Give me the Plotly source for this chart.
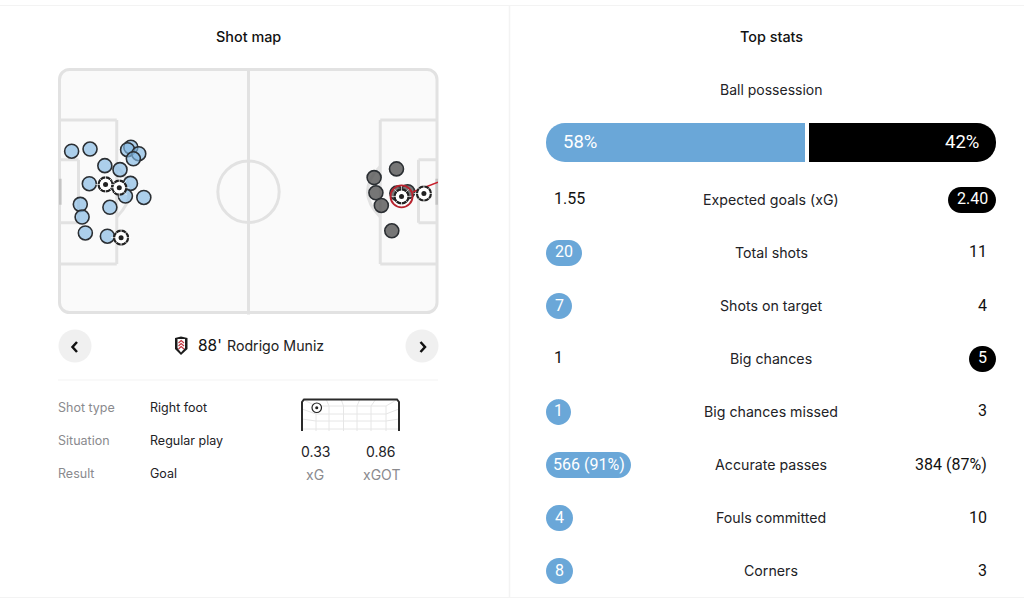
import plotly.graph_objects as go

W, H = 1024, 609
FONT = "Inter"
NUM = "Roboto"
DARK = "#222226"
GREY = "#8a8a8e"
BLUE = "#6aa7d8"
LINE = "#e2e2e2"

# shots, pitch metres (105 x 68)
home_x = [3.5, 8.6, 19.9, 19.0, 22.1, 20.6, 12.7, 16.9, 8.4, 19.8, 18.4, 23.5, 5.9, 14.1, 6.4, 7.3, 13.4]
home_y = [45.2, 45.8, 46.3, 45.6, 44.5, 43.1, 41.2, 40.1, 36.2, 36.3, 32.8, 32.4, 30.5, 29.7, 27.0, 22.6, 21.7]
home_goal_x = [12.9, 16.7, 17.2]
home_goal_y = [36.0, 35.1, 21.3]
away_x = [93.5, 87.3, 87.8, 89.3, 92.2, 93.6, 96.6]
away_y = [40.3, 37.9, 33.7, 30.2, 23.2, 33.6, 34.0]
away_goal_x = [94.9, 101.1]
away_goal_y = [32.7, 33.5]
sel_x = [94.9]
sel_y = [32.7]
sel_end_x = [98.0, 105.0]
sel_end_y = [33.9, 36.6]

possession = [58, 42]
teams = ["Home", "Away"]

stat_labels = ["Expected goals (xG)", "Total shots", "Shots on target", "Big chances",
               "Big chances missed", "Accurate passes", "Fouls committed", "Corners"]
stat_home = ["1.55", "20", "7", "1", "1", "566 (91%)", "4", "8"]
stat_away = ["2.40", "11", "4", "5", "3", "384 (87%)", "10", "3"]
stat_lead = ["away", "home", "home", "away", "home", "home", "home", "home"]
stat_y_px = [200, 253, 306, 359, 412, 465, 518, 571]
pill_w = [48, 36, 26, 27, 25, 85, 27, 27]

detail_labels = ["Shot type", "Situation", "Result"]
detail_values = ["Right foot", "Regular play", "Goal"]


def px(x):
    return x / W


def py(y):
    return 1 - y / H


def rrect(x0, y0, x1, y1, r):
    k = r * 0.4477
    return (f"M{px(x0+r)},{py(y0)} L{px(x1-r)},{py(y0)} C{px(x1-k)},{py(y0)} {px(x1)},{py(y0+k)} {px(x1)},{py(y0+r)} "
            f"L{px(x1)},{py(y1-r)} C{px(x1)},{py(y1-k)} {px(x1-k)},{py(y1)} {px(x1-r)},{py(y1)} "
            f"L{px(x0+r)},{py(y1)} C{px(x0+k)},{py(y1)} {px(x0)},{py(y1-k)} {px(x0)},{py(y1-r)} "
            f"L{px(x0)},{py(y0+r)} C{px(x0)},{py(y0+k)} {px(x0+k)},{py(y0)} {px(x0+r)},{py(y0)} Z")


def poly(pts, close=False):
    s = "M" + " L".join(f"{px(a)},{py(b)}" for a, b in pts)
    return s + (" Z" if close else "")


fig = go.Figure()
shapes = []
ann = []


def text(x, y, s, size=14, color=DARK, anchor="center", weight=400, family=FONT):
    # annotations carry about 2px of padding on the anchored side
    x = x - 2 if anchor == "left" else (x + 2 if anchor == "right" else x)
    ann.append(dict(x=px(x), y=py(y), xref="paper", yref="paper", text=s, showarrow=False,
                    xanchor=anchor, yanchor="middle",
                    font=dict(family=family, size=size, color=color, weight=weight)))


def pl(x0, y0, x1, y1, color=LINE, w=1.0):
    shapes.append(dict(type="line", xref="paper", yref="paper", x0=px(x0), y0=py(y0), x1=px(x1), y1=py(y1),
                       line=dict(color=color, width=w), layer="below"))


def pathp(d, fill=None, color=None, w=0.0):
    s = dict(type="path", xref="paper", yref="paper", path=d, layer="below", line=dict(width=w))
    if fill:
        s["fillcolor"] = fill
    if color:
        s["line"]["color"] = color
    shapes.append(s)


# frame dividers
pl(0, 5.5, 1024, 5.5, "#f3f3f3", 1)
pl(509.5, 6, 509.5, 597, "#f3f3f3", 1.5)
pl(0, 597.5, 1024, 597.5, "#f3f3f3", 1)

# pitch in data coordinates
PL = dict(color=LINE, width=3)


def seg(x0, y0, x1, y1):
    shapes.append(dict(type="line", xref="x", yref="y", x0=x0, y0=y0, x1=x1, y1=y1, line=PL, layer="below"))


pathp(rrect(59.5, 69.5, 437, 312.5, 10), "#fafafa", LINE, 3)
seg(52.5, 0, 52.5, 68)
shapes.append(dict(type="circle", xref="x", yref="y", x0=52.5 - 8.5, x1=52.5 + 8.5, y0=34 - 8.5, y1=34 + 8.5, line=PL, layer="below"))
for side in (0, 1):
    f = (lambda v: v) if side == 0 else (lambda v: 105 - v)
    seg(f(0), 14, f(16), 14)
    seg(f(0), 53.8, f(16), 53.8)
    seg(f(16), 14, f(16), 53.8)
    seg(f(0), 25.4, f(5.4), 25.4)
    seg(f(0), 42.8, f(5.4), 42.8)
    seg(f(5.4), 25.4, f(5.4), 42.8)
    shapes.append(dict(type="path", xref="x", yref="y", path=f"M{f(16)},41 Q{f(23)},34 {f(16)},27", line=PL, layer="below"))
    shapes.append(dict(type="line", xref="x", yref="y", x0=f(0.3), x1=f(0.3), y0=30.4, y1=37.6,
                       line=dict(color="#c4c4c4", width=3), layer="below"))

fig.add_trace(go.Scatter(x=home_x, y=home_y, mode="markers", xaxis="x", yaxis="y",
                         marker=dict(size=14, color="rgba(130,185,228,0.65)", line=dict(color="#2b2f33", width=1.6)),
                         name="Home shots", hoverinfo="skip"))
fig.add_trace(go.Scatter(x=away_x, y=away_y, mode="markers", xaxis="x", yaxis="y",
                         marker=dict(size=14, color="rgba(85,85,85,0.8)", line=dict(color="#2b2f33", width=1.6)),
                         name="Away shots", hoverinfo="skip"))
fig.add_trace(go.Scatter(x=sel_end_x, y=sel_end_y, mode="lines", xaxis="x", yaxis="y",
                         line=dict(color="#c7202c", width=1.5), hoverinfo="skip"))
for gx, gy in ((home_goal_x, home_goal_y), (away_goal_x, away_goal_y)):
    fig.add_trace(go.Scatter(x=gx, y=gy, mode="markers", xaxis="x", yaxis="y",
                             marker=dict(size=14, color="white", line=dict(color="#222", width=2.2)), hoverinfo="skip"))
    fig.add_trace(go.Scatter(x=gx, y=gy, mode="markers", xaxis="x", yaxis="y",
                             marker=dict(size=17, symbol="asterisk-open", color="white",
                                         line=dict(color="white", width=0.7)), hoverinfo="skip"))
    fig.add_trace(go.Scatter(x=gx, y=gy, mode="markers", xaxis="x", yaxis="y",
                             marker=dict(size=5, color="#222"), hoverinfo="skip"))
fig.add_trace(go.Scatter(x=sel_x, y=sel_y, mode="markers", xaxis="x", yaxis="y",
                         marker=dict(size=22, color="rgba(0,0,0,0)", line=dict(color="#b8232e", width=1.8)),
                         hoverinfo="skip"))

# possession bar: each part grows from the split towards its own end
fig.add_trace(go.Bar(x=[-possession[0]], base=[possession[0]], y=["Ball possession"], orientation="h",
                     marker=dict(color=BLUE, line=dict(width=0)), xaxis="x2", yaxis="y2",
                     name=teams[0], hoverinfo="skip", width=1))
fig.add_trace(go.Bar(x=[possession[1]], base=[possession[0]], y=["Ball possession"], orientation="h",
                     marker=dict(color="#000000", line=dict(width=0)), xaxis="x2", yaxis="y2",
                     name=teams[1], hoverinfo="skip", width=1))
# square off the inner ends at the split, then the white gap
shapes.append(dict(type="rect", xref="x2", yref="y2", x0=possession[0] - 8, x1=possession[0], y0=-0.5, y1=0.5,
                   fillcolor=BLUE, line=dict(width=0)))
shapes.append(dict(type="rect", xref="x2", yref="y2", x0=possession[0], x1=possession[0] + 8, y0=-0.5, y1=0.5,
                   fillcolor="#000000", line=dict(width=0)))
shapes.append(dict(type="line", xref="x2", yref="y2", x0=possession[0], x1=possession[0], y0=-0.5, y1=0.5,
                   line=dict(color="white", width=4)))

# headings
text(248.5, 36, "Shot map", 14.4, "#111", weight=500)
text(771, 36, "Top stats", 14.4, "#111", weight=500)
text(770.5, 89.5, "Ball possession", 14)
text(563, 141.5, f"{possession[0]}%", 18.5, "white", "left", 400, NUM)
text(979, 141.5, f"{possession[1]}%", 18.5, "white", "right", 400, NUM)

# stats
for lab, h, a, lead, y, w in zip(stat_labels, stat_home, stat_away, stat_lead, stat_y_px, pill_w):
    text(771, y - 0.5, lab, 14.2)
    if lead == "home":
        pathp(rrect(546, y - 13, 546 + w, y + 13, 13), BLUE)
        text(546 + w / 2, y - 1, h, 16, "white", weight=400, family=NUM)
        text(987, y - 1, a, 16, "#111", "right", 400, NUM)
    else:
        pathp(rrect(996 - w, y - 13, 996, y + 13, 13), "#000")
        text(996 - w / 2, y - 1, a, 16, "white", weight=400, family=NUM)
        text(554, y - 1, h, 16, "#111", "left", 400, NUM)

# navigation
for cx, pts in ((75, [(77, 342), (72.5, 347), (77, 352)]), (422, [(420.5, 342), (425, 347), (420.5, 352)])):
    shapes.append(dict(type="circle", xref="paper", yref="paper", x0=px(cx - 16.5), x1=px(cx + 16.5),
                       y0=py(346 + 16.5), y1=py(346 - 16.5), fillcolor="#f0f0f0", line=dict(width=0), layer="below"))
    pathp(poly(pts), None, "#111", 2.5)
text(198, 345, "88'", 15.5, "#111", "left", 400)
text(227, 346, "Rodrigo Muniz", 14.2, "#222", "left")
pl(58, 380, 438, 380, "#f3f3f3", 1)

# crest
pathp(poly([(175, 338), (181, 336.5), (187.5, 338), (187.5, 349), (181, 355), (175, 349)], True), "#1c1c1c")
pathp(poly([(177.5, 339), (185, 339), (185, 348), (181, 352.5), (177.5, 348)], True), "#ffffff")
pathp(poly([(178.5, 343), (181.2, 340.5), (184, 343)]), None, "#c2353f", 1.2)
pathp(poly([(178.5, 346), (181.2, 343.5), (184, 346)]), None, "#c2353f", 1.2)
pathp(poly([(178.5, 349), (181.2, 346.5), (184, 349)]), None, "#c2353f", 1.2)

# details
for lab, val, y in zip(detail_labels, detail_values, (407.5, 440.5, 473.5)):
    text(58, y, lab, 12.5, GREY, "left")
    text(150, y, val, 12.5, DARK, "left")

# mini goal
NET = "#e6e6e6"
pl(316, 406, 386, 406, NET)
for y in (414, 421, 429):
    pl(316, y, 386, y, NET)
for x in (316, 329, 343.5, 357, 371, 386):
    pl(x, 406, x, 431, NET)
for a, b in ((316, 302), (329, 326), (343.5, 341), (357, 360), (371, 376), (386, 398)):
    pl(a, 406, b, 399, NET)
for a, b in ((414, 409), (421, 419), (429, 429)):
    pl(316, a, 302, b, NET)
    pl(386, a, 399, b, NET)
pathp(poly([(302, 431), (302, 402), (304, 399.5), (397, 399.5), (399, 402), (399, 431)]), None, "#2a2a2a", 2)
shapes.append(dict(type="circle", xref="paper", yref="paper", x0=px(312), x1=px(321.5), y0=py(412.5), y1=py(403),
                   fillcolor="white", line=dict(color="#222", width=1.2)))
shapes.append(dict(type="circle", xref="paper", yref="paper", x0=px(315.2), x1=px(318.3), y0=py(409.3), y1=py(406.2),
                   fillcolor="#222", line=dict(width=0)))
text(315, 451.5, "0.33", 14)
text(381, 451.5, "0.86", 14)
text(315, 474.5, "xG", 14, GREY)
text(381, 474.5, "xGOT", 14, GREY)

fig.update_layout(
    width=W, height=H, margin=dict(l=0, r=0, t=0, b=0), paper_bgcolor="white", plot_bgcolor="rgba(0,0,0,0)",
    showlegend=False, barmode="overlay", barcornerradius=19, shapes=shapes, annotations=ann,
    xaxis=dict(domain=[px(59), px(438)], range=[0, 105], visible=False, fixedrange=True),
    yaxis=dict(domain=[py(314.7), py(68.7)], range=[0, 68], visible=False, fixedrange=True),
    xaxis2=dict(domain=[px(546), px(996)], range=[0, 100], visible=False, anchor="y2", fixedrange=True),
    yaxis2=dict(domain=[py(162), py(123)], range=[-0.5, 0.5], visible=False, anchor="x2", type="category", fixedrange=True),
)
fig.write_html("out.html", config=dict(displayModeBar=False),
               post_script="document.body.style.margin='0';document.body.style.overflow='hidden';")
